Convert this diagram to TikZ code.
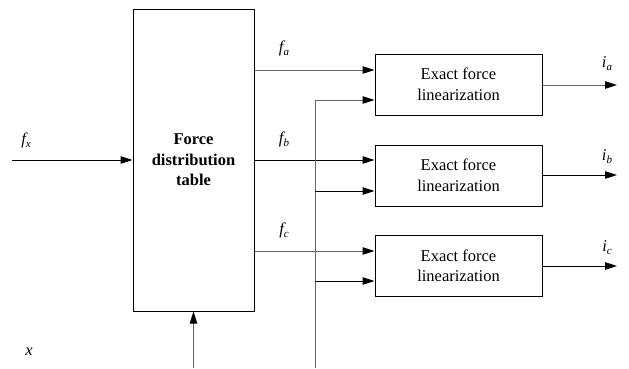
\documentclass[tikz,border=0pt]{standalone}
\usepackage{fontspec}
\setmainfont{Liberation Serif}
\usetikzlibrary{arrows.meta}
\definecolor{ln}{gray}{0.4}
\newcommand{\mysub}[1]{\raisebox{-0.4ex}{\fontsize{11}{11}\selectfont #1}}
\begin{document}
\begin{tikzpicture}[x=1pt,y=-1pt,
  blk/.style={draw,line width=1pt,inner sep=0pt,align=center,font=\fontsize{16.5}{20.5}\selectfont},
  arr/.style={line width=1pt,-{Triangle[length=12pt,width=7.5pt,black]}},
  wire/.style={line width=1pt},
  lbl/.style={font=\fontsize{16.5}{20}\selectfont\itshape,inner sep=0pt}]
\useasboundingbox (0,0) rectangle (629,368);
% blocks
\node[blk,minimum width=121pt,minimum height=302pt] (fdt) at (193.5,160) {\textbf{Force}\\\textbf{distribution}\\\textbf{table}};
\node[blk,minimum width=167pt,minimum height=61pt] (e1) at (458.5,84.5) {Exact force\\linearization};
\node[blk,minimum width=167pt,minimum height=61pt] (e2) at (458.5,175.5) {Exact force\\linearization};
\node[blk,minimum width=167pt,minimum height=61pt] (e3) at (458.5,266) {Exact force\\linearization};
% coordinates
\coordinate (fxin) at (12,160);
\coordinate (xin) at (193.5,368);
\coordinate (vbot) at (315,368);
\coordinate (vtop) at (315,100);
\coordinate (v2) at (315,191);
\coordinate (v3) at (315,281);
\coordinate (oa) at (617,85);
\coordinate (ob) at (617,175);
\coordinate (oc) at (617,266);
% connectors
\draw[arr] (fxin) -- (fdt.west |- fxin);
\draw[arr,ln] (xin) -- (fdt.south);
\draw[arr,ln] (fdt.east |- 0,70) -- (e1.west |- 0,70);
\draw[arr] (fdt.east |- 0,160) -- (e2.west |- 0,160);
\draw[arr,ln] (fdt.east |- 0,251) -- (e3.west |- 0,251);
\draw[wire,ln] (vbot) -- (vtop);
\draw[arr,ln] (vtop) -- (e1.west |- vtop);
\draw[arr] (v2) -- (e2.west |- v2);
\draw[arr] (v3) -- (e3.west |- v3);
\draw[arr,ln] (e1.east |- oa) -- (oa);
\draw[arr] (e2.east |- ob) -- (ob);
\draw[arr] (e3.east |- oc) -- (oc);
% labels
\node[lbl] (lfx) at (26,140) {f\mysub{x}};
\node[lbl] (lx) at (29,352) {x};
\node[lbl] (lfa) at (284,48) {f\mysub{a}};
\node[lbl] (lfb) at (284,139) {f\mysub{b}};
\node[lbl] (lfc) at (284,230) {f\mysub{c}};
\node[lbl] (lia) at (607,64) {i\mysub{a}};
\node[lbl] (lib) at (607,157) {i\mysub{b}};
\node[lbl] (lic) at (607,248) {i\mysub{c}};
\end{tikzpicture}
\end{document}
